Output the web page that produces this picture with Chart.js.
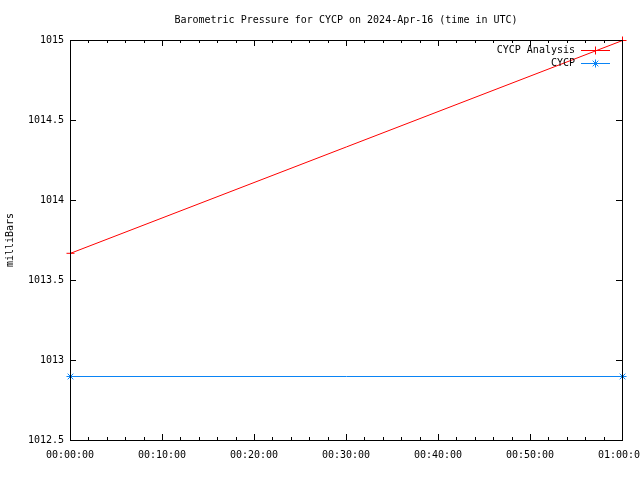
<!DOCTYPE html>
<html>
<head>
<meta charset="utf-8">
<script src="https://cdn.jsdelivr.net/npm/chart.js@4"></script>
<style>
html,body{margin:0;padding:0;background:#fff;}
#wrap{width:640px;height:480px;position:relative;}
</style>
</head>
<body>
<div id="wrap"><canvas id="c" width="640" height="480"></canvas></div>
<script>
// ---- data ----
const titleText = "Barometric Pressure for CYCP on 2024-Apr-16 (time in UTC)";
const yTitle = "milliBars";
const seriesNames = ["CYCP Analysis", "CYCP"];
const timeMinutes = [0, 60];              // minutes after 00:00:00 UTC
const analysisValues = [1013.67, 1015.0];
const cycpValues = [1012.9, 1012.9];
const xTickMinutes = [0, 10, 20, 30, 40, 50, 60];
const yTickValues = [1012.5, 1013, 1013.5, 1014, 1014.5, 1015];

const FONT = "'DejaVu Sans Mono', 'Liberation Mono', monospace";
const RED = "#ff0000";
const BLUE = "#0a84f5";

function fmtTime(m) {
  const h = Math.floor(m / 60), mm = Math.round(m % 60);
  return String(h).padStart(2, "0") + ":" + String(mm).padStart(2, "0") + ":00";
}

const crispPlugin = {
  id: "crisp",
  beforeDatasetsDraw(chart) { chart.ctx.save(); chart.ctx.translate(0.5, 0.5); },
  afterDatasetsDraw(chart) { chart.ctx.restore(); }
};

const framePlugin = {
  id: "frame",
  afterDraw(chart) {
    const ctx = chart.ctx;
    const a = chart.chartArea;
    const xs = chart.scales.x, ys = chart.scales.y;
    ctx.save();
    ctx.strokeStyle = "#000";
    ctx.lineWidth = 1;
    ctx.strokeRect(Math.round(a.left) + 0.5, Math.round(a.top) + 0.5,
                   Math.round(a.right - a.left), Math.round(a.bottom - a.top));
    ctx.beginPath();
    for (let m = xs.min; m <= xs.max; m += 2) {
      const px = Math.round(xs.getPixelForValue(m)) + 0.5;
      const len = (m % 10 === 0) ? 6 : 3;
      ctx.moveTo(px, a.bottom); ctx.lineTo(px, a.bottom - len);
      ctx.moveTo(px, a.top); ctx.lineTo(px, a.top + len);
    }
    yTickValues.forEach(v => {
      const py = Math.round(ys.getPixelForValue(v)) + 0.5;
      ctx.moveTo(a.left, py); ctx.lineTo(a.left + 6, py);
      ctx.moveTo(a.right, py); ctx.lineTo(a.right - 6, py);
    });
    ctx.stroke();

    ctx.fillStyle = "#000";
    ctx.font = "10px " + FONT;
    ctx.textAlign = "center";
    ctx.textBaseline = "middle";
    ctx.fillText(titleText, (a.left + a.right) / 2, 20);

    const rows = [50, 63];
    chart.data.datasets.forEach((ds, i) => {
      const y = rows[i];
      ctx.fillStyle = "#000";
      ctx.textAlign = "right";
      ctx.textBaseline = "middle";
      ctx.fillText(ds.label, 575, y);
      ctx.strokeStyle = ds.borderColor;
      ctx.lineWidth = 1;
      ctx.beginPath();
      ctx.moveTo(581, y + 0.5); ctx.lineTo(610, y + 0.5);
      ctx.stroke();
      Chart.helpers.drawPoint(ctx, {
        pointStyle: ds.pointStyle, radius: ds.pointRadius,
        borderWidth: 1, rotation: 0
      }, 595.5, y + 0.5);
    });
    ctx.restore();
  }
};

new Chart(document.getElementById("c"), {
  type: "line",
  data: {
    datasets: [
      {
        label: seriesNames[0],
        data: timeMinutes.map((t, i) => ({ x: t, y: analysisValues[i] })),
        borderColor: RED, backgroundColor: RED,
        borderWidth: 1, pointStyle: "cross", pointRadius: 4,
        pointBorderWidth: 1, tension: 0, clip: false, fill: false
      },
      {
        label: seriesNames[1],
        data: timeMinutes.map((t, i) => ({ x: t, y: cycpValues[i] })),
        borderColor: BLUE, backgroundColor: BLUE,
        borderWidth: 1, pointStyle: "star", pointRadius: 4,
        pointBorderWidth: 1, tension: 0, clip: false, fill: false
      }
    ]
  },
  options: {
    responsive: false,
    animation: false,
    devicePixelRatio: 1,
    layout: { padding: { left: 0, right: 18, top: 40, bottom: 0 } },
    plugins: { legend: { display: false }, title: { display: false }, tooltip: { enabled: false } },
    scales: {
      x: {
        type: "linear", min: 0, max: 60,
        afterBuildTicks(s) { s.ticks = xTickMinutes.map(v => ({ value: v })); },
        afterFit(s) { s.height = 40; s.paddingLeft = 0; s.paddingRight = 0; },
        grid: { display: false, drawTicks: false },
        border: { display: false },
        ticks: {
          autoSkip: false, maxRotation: 0, padding: 9, color: "#000",
          font: { family: FONT, size: 10 },
          callback: v => fmtTime(v)
        }
      },
      y: {
        min: 1012.5, max: 1015,
        afterBuildTicks(s) { s.ticks = yTickValues.map(v => ({ value: v })); },
        afterFit(s) { s.width = 70; s.paddingTop = 0; s.paddingBottom = 0; },
        grid: { display: false, drawTicks: false },
        border: { display: false },
        ticks: {
          autoSkip: false, padding: 6, color: "#000",
          font: { family: FONT, size: 10 },
          callback: v => String(+v.toFixed(1))
        },
        title: {
          display: true, text: yTitle, color: "#000",
          font: { family: FONT, size: 10 }, padding: { top: 4, bottom: 0 }
        }
      }
    }
  },
  plugins: [crispPlugin, framePlugin]
});
</script>
</body>
</html>
